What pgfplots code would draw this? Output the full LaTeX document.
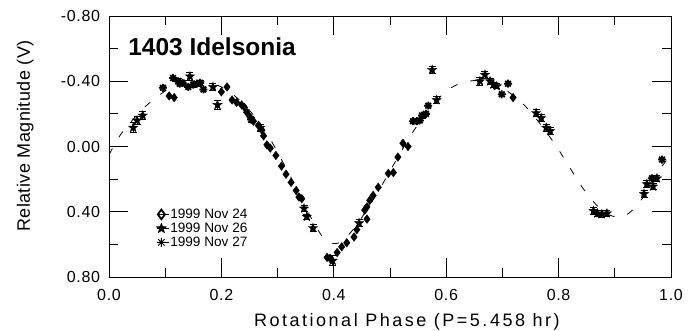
\documentclass[border=0pt]{standalone}
\usepackage{fontspec}
\setmainfont{Liberation Sans}
\newfontfamily\labfont{Liberation Sans}[LetterSpace=14]
\newfontfamily\ylabfont{Liberation Sans}[LetterSpace=2.5]
\newfontfamily\tickfont{Liberation Sans}[LetterSpace=4]
\usepackage{pgfplots}
\pgfplotsset{compat=1.18}
\usetikzlibrary{plotmarks}

% filled five-pointed star
\pgfdeclareplotmark{fstar}{%
  \pgfpathmoveto{\pgfpointpolar{90}{\pgfplotmarksize}}%
  \pgfpathlineto{\pgfpointpolar{126}{0.42\pgfplotmarksize}}%
  \pgfpathlineto{\pgfpointpolar{162}{\pgfplotmarksize}}%
  \pgfpathlineto{\pgfpointpolar{198}{0.42\pgfplotmarksize}}%
  \pgfpathlineto{\pgfpointpolar{234}{\pgfplotmarksize}}%
  \pgfpathlineto{\pgfpointpolar{270}{0.42\pgfplotmarksize}}%
  \pgfpathlineto{\pgfpointpolar{306}{\pgfplotmarksize}}%
  \pgfpathlineto{\pgfpointpolar{342}{0.42\pgfplotmarksize}}%
  \pgfpathlineto{\pgfpointpolar{18}{\pgfplotmarksize}}%
  \pgfpathlineto{\pgfpointpolar{54}{0.42\pgfplotmarksize}}%
  \pgfpathclose\pgfusepathqfillstroke}
% eight-spoked asterisk
\pgfdeclareplotmark{aster8}{%
  \pgfpathmoveto{\pgfqpoint{-\pgfplotmarksize}{0pt}}\pgfpathlineto{\pgfqpoint{\pgfplotmarksize}{0pt}}%
  \pgfpathmoveto{\pgfqpoint{0pt}{-\pgfplotmarksize}}\pgfpathlineto{\pgfqpoint{0pt}{\pgfplotmarksize}}%
  \pgfpathmoveto{\pgfpointpolar{45}{\pgfplotmarksize}}\pgfpathlineto{\pgfpointpolar{225}{\pgfplotmarksize}}%
  \pgfpathmoveto{\pgfpointpolar{135}{\pgfplotmarksize}}\pgfpathlineto{\pgfpointpolar{315}{\pgfplotmarksize}}%
  \pgfusepathqstroke}

\pgfplotstableread{
x y
0.107 -0.31
0.116 -0.30
0.200 -0.335
0.210 -0.365
0.219 -0.285
0.227 -0.27
0.236 -0.255
0.241 -0.24
0.245 -0.21
0.251 -0.18
0.257 -0.155
0.266 -0.13
0.272 -0.10
0.275 -0.065
0.281 -0.01
0.287 0.01
0.297 0.055
0.307 0.12
0.315 0.17
0.324 0.22
0.333 0.27
0.338 0.31
0.343 0.32
0.388 0.68
0.393 0.685
0.406 0.65
0.414 0.615
0.423 0.59
0.436 0.555
0.441 0.51
0.455 0.39
0.459 0.445
0.459 0.37
0.464 0.33
0.470 0.30
0.479 0.25
0.497 0.165
0.506 0.16
0.514 0.065
0.523 -0.02
0.532 0.00
0.719 -0.30
}\novA

\pgfplotstableread{
x y e
0.043 -0.115 0.03
0.050 -0.16 0.025
0.060 -0.19 0.025
0.144 -0.43 0.025
0.185 -0.365 0.02
0.193 -0.255 0.025
0.269 -0.115 0.02
0.347 0.38 0.02
0.352 0.43 0.015
0.363 0.50 0.02
0.398 0.70 0.03
0.445 0.47 0.02
0.575 -0.47 0.02
0.583 -0.285 0.02
0.660 -0.40 0.025
0.669 -0.44 0.02
0.678 -0.40 0.02
0.684 -0.38 0.015
0.690 -0.37 0.015
0.760 -0.205 0.02
0.769 -0.175 0.02
0.778 -0.115 0.02
0.785 -0.095 0.02
0.862 0.395 0.02
0.869 0.41 0.02
0.877 0.415 0.02
0.886 0.41 0.02
0.952 0.29 0.02
0.957 0.23 0.02
0.968 0.245 0.02
0.975 0.195 0.02
}\novB

\pgfplotstableread{
x y e
0.096 -0.36 0.0
0.114 -0.42 0.0
0.123 -0.40 0.015
0.126 -0.385 0.0
0.131 -0.39 0.015
0.141 -0.365 0.0
0.150 -0.38 0.015
0.156 -0.385 0.015
0.162 -0.39 0.015
0.168 -0.35 0.0
0.253 -0.165 0.015
0.541 -0.155 0.0
0.548 -0.155 0.0
0.553 -0.16 0.0
0.557 -0.19 0.015
0.564 -0.20 0.0
0.568 -0.25 0.0
0.699 -0.32 0.0
0.710 -0.385 0.0
0.966 0.195 0.0
0.984 0.08 0.0
}\novC

% Fourier fit to the lightcurve
\pgfplotstableread{
x y
0.00 0.05
0.02 -0.07
0.04 -0.155
0.06 -0.23
0.08 -0.29
0.10 -0.34
0.12 -0.375
0.14 -0.395
0.16 -0.40
0.18 -0.39
0.20 -0.365
0.22 -0.32
0.24 -0.26
0.26 -0.18
0.28 -0.085
0.30 0.035
0.32 0.165
0.34 0.30
0.36 0.44
0.38 0.555
0.39 0.585
0.40 0.595
0.41 0.59
0.42 0.565
0.44 0.485
0.46 0.38
0.48 0.27
0.50 0.15
0.52 0.03
0.54 -0.085
0.56 -0.185
0.58 -0.27
0.60 -0.34
0.62 -0.38
0.64 -0.40
0.66 -0.405
0.68 -0.39
0.70 -0.36
0.72 -0.31
0.74 -0.25
0.76 -0.17
0.78 -0.08
0.80 0.02
0.82 0.13
0.84 0.24
0.86 0.33
0.88 0.40
0.90 0.43
0.92 0.42
0.94 0.36
0.96 0.26
0.98 0.14
1.00 0.05
}\fit

\begin{document}
\begin{tikzpicture}
\begin{axis}[
  scale only axis, width=562pt, height=261pt,
  xmin=0, xmax=1, ymin=-0.8, ymax=0.8, y dir=reverse,
  xtick={0,0.2,0.4,0.6,0.8,1.0},
  ytick={-0.8,-0.4,0,0.4,0.8},
  minor x tick num=1, minor y tick num=1,
  tick align=inside, major tick length=19pt, minor tick length=9pt,
  axis line style={line width=0.9pt},
  every tick/.style={line width=0.9pt, black},
  /pgf/number format/assume math mode=true,
  tick label style={font=\tickfont\fontsize{16}{16}\selectfont},
  xticklabel style={yshift=-9pt, /pgf/number format/.cd, fixed, fixed zerofill, precision=1},
  yticklabel style={xshift=-5.5pt, /pgf/number format/.cd, fixed, fixed zerofill, precision=2},
  xlabel={Rotational Phase (P=5.458 hr)},
  ylabel={Relative Magnitude (V)},
  xlabel style={font=\labfont\fontsize{18}{18}\selectfont, at={(axis description cs:0.53,-0.19)}, anchor=base},
  ylabel style={font=\ylabfont\fontsize{18}{18}\selectfont, at={(axis description cs:-0.1406,0.54)}, anchor=base},
  legend style={draw=none, fill=none, at={(0.0839,0.105)}, anchor=south west,
    font=\fontsize{13.6}{13.6}\selectfont, row sep=0pt, inner sep=0pt,
    nodes={inner sep=1.5pt}},
  legend cell align=left,
  legend image code/.code={\draw[#1] plot coordinates {(4pt,0pt)}; \path (0pt,0pt) -- (11.2pt,0pt);},
  error bars/error bar style={line width=0.9pt},
  error bars/error mark options={rotate=90, mark size=3.5pt, line width=0.9pt},
]
\addlegendimage{only marks, mark=diamond, mark size=4.8pt, mark options={line width=1.8pt, black}}
\addlegendentry{1999 Nov 24}
\addlegendimage{only marks, mark=fstar, mark size=5.3pt, mark options={black, fill=black}}
\addlegendentry{1999 Nov 26}
\addlegendimage{only marks, mark=aster8, mark size=4.5pt, mark options={black, line width=0.9pt}}
\addlegendentry{1999 Nov 27}

\addplot[forget plot, black, line width=0.8pt, dash pattern=on 7pt off 13pt, smooth, tension=0.5] table {\fit};
\addplot[forget plot, only marks, mark=diamond*, mark size=4.3pt, mark options={black, fill=black}] table {\novA};
\addplot[forget plot, only marks, mark=fstar, mark size=4.8pt, mark options={black, fill=black},
  error bars/y dir=both, error bars/y explicit] table[y error=e] {\novB};
\addplot[forget plot, only marks, mark=aster8, mark size=4pt, mark options={black, line width=1.8pt},
  error bars/y dir=both, error bars/y explicit] table[y error=e] {\novC};

\node[anchor=base west, inner sep=0pt, font=\bfseries\fontsize{24.5}{24.5}\selectfont]
  at (rel axis cs:0.034,0.847) {1403 Idelsonia};
\end{axis}
\pgfresetboundingbox
\path (-109pt,-54pt) rectangle (589pt,277pt);
\end{tikzpicture}
\end{document}
